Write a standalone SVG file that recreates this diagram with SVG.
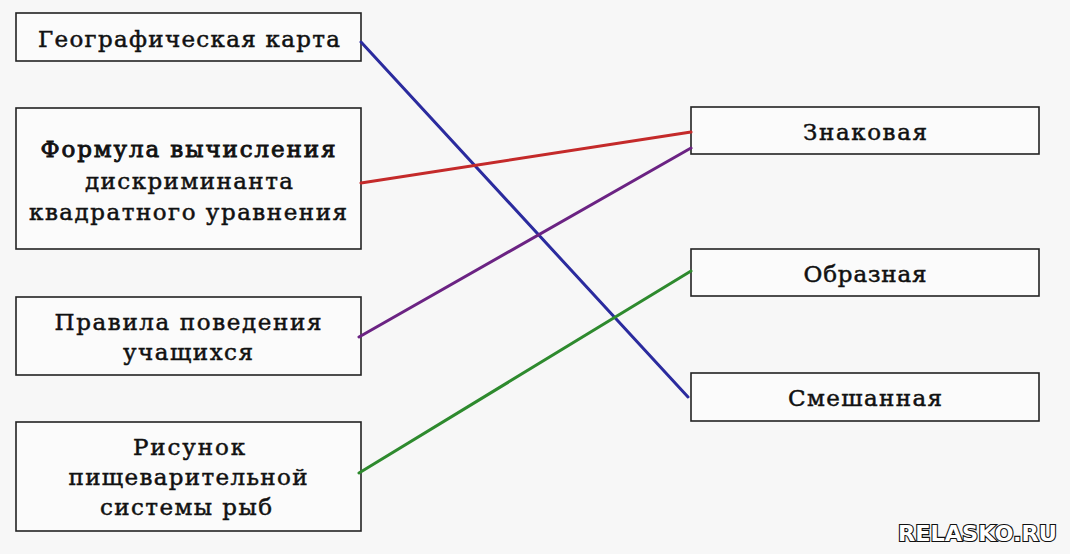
<svg xmlns="http://www.w3.org/2000/svg" width="1070" height="554" viewBox="0 0 1070 554">
<style>
.box{fill:#fbfbfb;stroke:#222;stroke-width:1.6}
.t{font-family:"DejaVu Serif","Liberation Serif",serif;font-size:23px;fill:#111;stroke:#111;stroke-width:0.5;text-anchor:middle}
.b{stroke-width:0.9}
.c{fill:none;stroke-width:3;stroke-linecap:round}
.wm{font-family:"DejaVu Sans",sans-serif;font-weight:bold;font-size:22px;fill:#fff;stroke:#111;stroke-width:2.2;paint-order:stroke}
</style>
<rect width="1070" height="554" fill="#f7f7f7"/>
<g id="n1"><rect class="box" x="16" y="13" width="345" height="48"/><text class="t" x="189" y="47" textLength="302" lengthAdjust="spacing">Географическая карта</text></g>
<g id="n2"><rect class="box" x="16" y="108" width="345" height="141"/>
<text class="t b" x="188" y="157" textLength="295" lengthAdjust="spacing">Формула вычисления</text>
<text class="t" x="189" y="189" textLength="208" lengthAdjust="spacing">дискриминанта</text>
<text class="t" x="188" y="220" textLength="318" lengthAdjust="spacing">квадратного уравнения</text></g>
<g id="n3"><rect class="box" x="16" y="297" width="345" height="78"/>
<text class="t" x="188" y="330" textLength="267" lengthAdjust="spacing">Правила поведения</text>
<text class="t" x="188" y="360" textLength="130" lengthAdjust="spacing">учащихся</text></g>
<g id="n4"><rect class="box" x="16" y="422" width="345" height="109"/>
<text class="t" x="189" y="455" textLength="112" lengthAdjust="spacing">Рисунок</text>
<text class="t" x="188" y="485" textLength="239" lengthAdjust="spacing">пищеварительной</text>
<text class="t" x="186" y="515" textLength="172" lengthAdjust="spacing">системы рыб</text></g>
<g id="n5"><rect class="box" x="691" y="107" width="348" height="47"/><text class="t" x="865" y="140" textLength="124" lengthAdjust="spacing">Знаковая</text></g>
<g id="n6"><rect class="box" x="691" y="249" width="348" height="47"/><text class="t" x="865" y="282" textLength="123" lengthAdjust="spacing">Образная</text></g>
<g id="n7"><rect class="box" x="691" y="373" width="348" height="48"/><text class="t" x="865" y="406" textLength="154" lengthAdjust="spacing">Смешанная</text></g>
<g id="connectors">
<line class="c" x1="361" y1="42" x2="688" y2="397" stroke="#2b2b9e"/>
<line class="c" x1="361" y1="183" x2="691" y2="132" stroke="#c42a2a"/>
<line class="c" x1="359" y1="337" x2="691" y2="148" stroke="#6b2383"/>
<line class="c" x1="359" y1="473" x2="691" y2="271" stroke="#2e8a2e"/>
</g>
<text class="wm" x="898" y="541" textLength="159" lengthAdjust="spacingAndGlyphs">RELASKO.RU</text>
</svg>
